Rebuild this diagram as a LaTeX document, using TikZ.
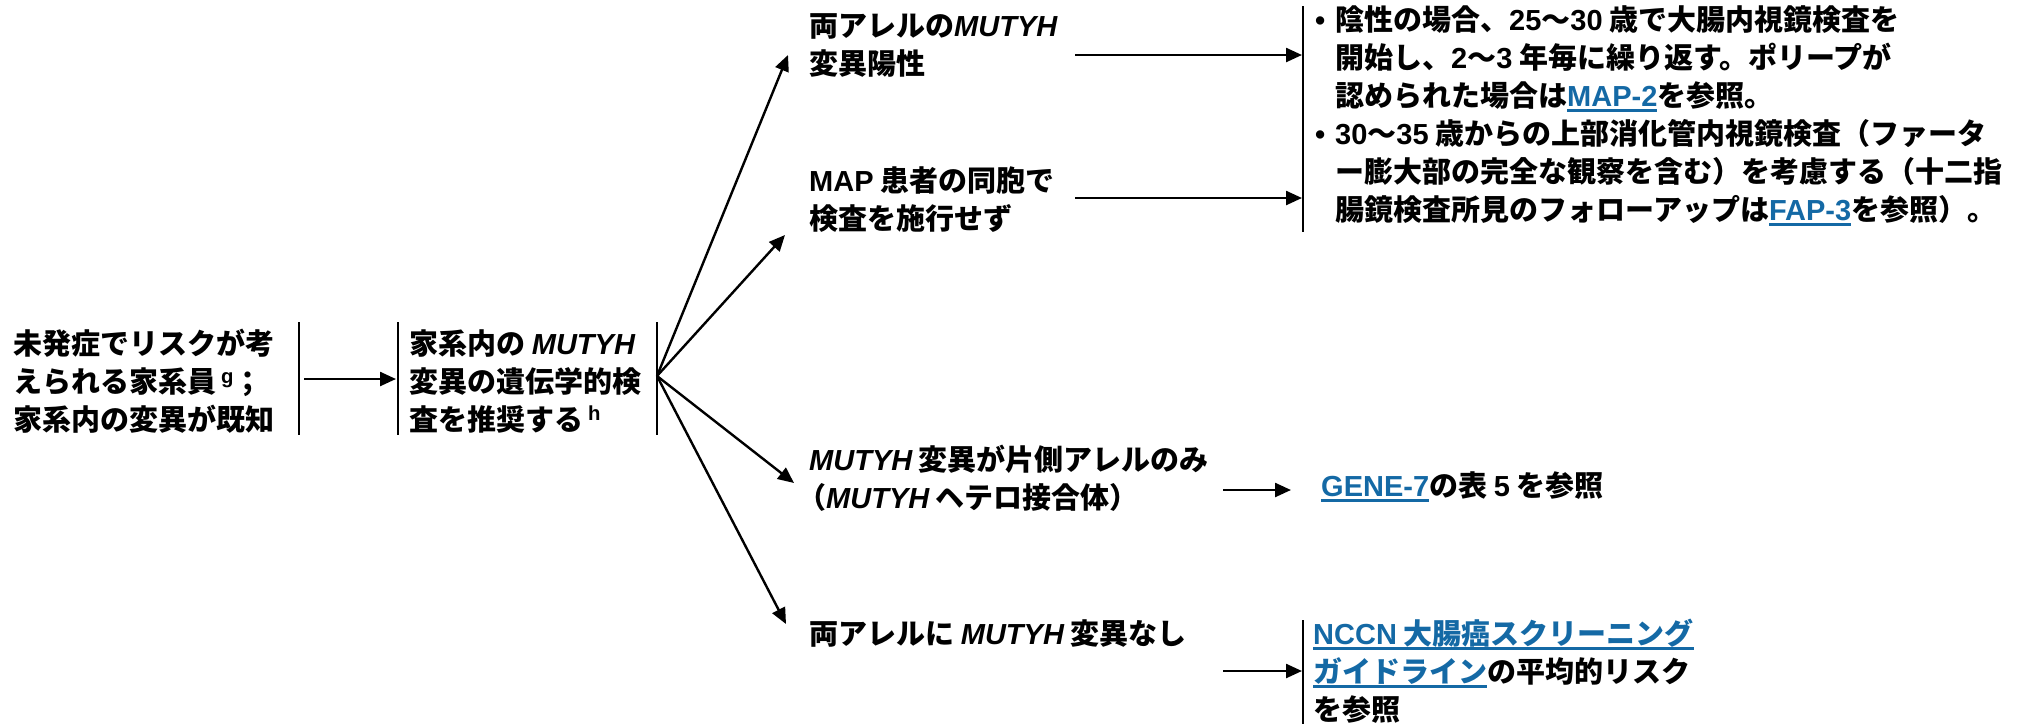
\documentclass[tikz,border=0pt]{standalone}
\usepackage{fontspec}
\setmainfont{Noto Sans CJK JP}
\newfontfamily\latf{Liberation Sans}
\usetikzlibrary{arrows.meta}
\definecolor{linkblue}{RGB}{20,105,165}
\newcommand\lnk[1]{{\color{linkblue}\sbox0{#1}\rlap{\rule[-6pt]{\wd0}{3pt}}#1}}
\newcommand\gn{{\latf\itshape MUTYH}}
\newcommand\ltn[1]{{\latf #1}}
\newlength\bw \setlength\bw{20pt}
\begin{document}
\begin{tikzpicture}[x=1pt,y=-1pt,
  txt/.style={anchor=west,inner sep=0pt,align=left,font=\fontsize{29}{38}\selectfont\bfseries},
  bar/.style={line width=2pt},
  arr/.style={line width=2.4pt,-{Triangle[length=16pt,width=14pt]}}]
\useasboundingbox (0,0) rectangle (2019,724);
% nodes
\node[txt] (risk) at (13,381) {未発症でリスクが考\\えられる家系員\,\textsuperscript{\latf g}；\\家系内の変異が既知};
\node[txt] (test) at (409,381) {家系内の \gn\\変異の遺伝学的検\\査を推奨する\,\textsuperscript{\latf h}};
\node[txt] (bi) at (809,45) {両アレルの\gn\\変異陽性};
\node[txt] (sib) at (809,200) {\ltn{MAP} 患者の同胞で\\検査を施行せず};
\node[txt] (het) at (809,478) {\gn\ 変異が片側アレルのみ\\\hspace*{-12pt}（\gn\ ヘテロ接合体）};
\node[txt] (neg) at (809,634) {両アレルに \gn\ 変異なし};
\node[txt] (surv) at (1315,116) {\makebox[\bw][l]{\latf •}陰性の場合、\ltn{25}〜\ltn{30} 歳で大腸内視鏡検査を\\
\hspace*{\bw}開始し、\ltn{2}〜\ltn{3} 年毎に繰り返す。ポリープが\\
\hspace*{\bw}認められた場合は\lnk{\latf MAP-2}を参照。\\
\makebox[\bw][l]{\latf •}\ltn{30}〜\ltn{35} 歳からの上部消化管内視鏡検査（ファータ\\
\hspace*{\bw}ー膨大部の完全な観察を含む）を考慮する（十二指\\
\hspace*{\bw}腸鏡検査所見のフォローアップは\lnk{\latf FAP-3}を参照）。};
\node[txt] (gene) at (1321,487) {\lnk{\latf GENE-7}の表 \ltn{5} を参照};
\node[txt] (nccn) at (1313,671) {\lnk{\ltn{NCCN} 大腸癌スクリーニング}\\\lnk{ガイドライン}の平均的リスク\\を参照};
% bars
\coordinate (b1t) at (299,322); \coordinate (b1b) at (299,435);
\coordinate (b2t) at (398,322); \coordinate (b2b) at (398,435);
\coordinate (b3t) at (657,322); \coordinate (b3b) at (657,435);
\coordinate (r1t) at (1303,6);  \coordinate (r1b) at (1303,232);
\coordinate (r2t) at (1303,620); \coordinate (r2b) at (1303,724);
\draw[bar] (b1t) -- (b1b);
\draw[bar] (b2t) -- (b2b);
\draw[bar] (b3t) -- (b3b);
\draw[bar] (r1t) -- (r1b);
\draw[bar] (r2t) -- (r2b);
% connectors
\coordinate (a0s) at (304,379); \coordinate (a0e) at (396,379);
\draw[arr] (a0s) -- (a0e);
\coordinate (fan) at (657,376);
\coordinate (f1) at (788,55);
\coordinate (f2) at (785,235);
\coordinate (f3) at (794,483);
\coordinate (f4) at (786,624);
\draw[arr] (fan) -- (f1);
\draw[arr] (fan) -- (f2);
\draw[arr] (fan) -- (f3);
\draw[arr] (fan) -- (f4);
\coordinate (h1s) at (1075,55);  \coordinate (h1e) at (1302,55);
\coordinate (h2s) at (1075,198); \coordinate (h2e) at (1302,198);
\coordinate (h3s) at (1223,490); \coordinate (h3e) at (1291,490);
\coordinate (h4s) at (1223,671); \coordinate (h4e) at (1302,671);
\draw[arr] (h1s) -- (h1e);
\draw[arr] (h2s) -- (h2e);
\draw[arr] (h3s) -- (h3e);
\draw[arr] (h4s) -- (h4e);
\end{tikzpicture}
\end{document}
